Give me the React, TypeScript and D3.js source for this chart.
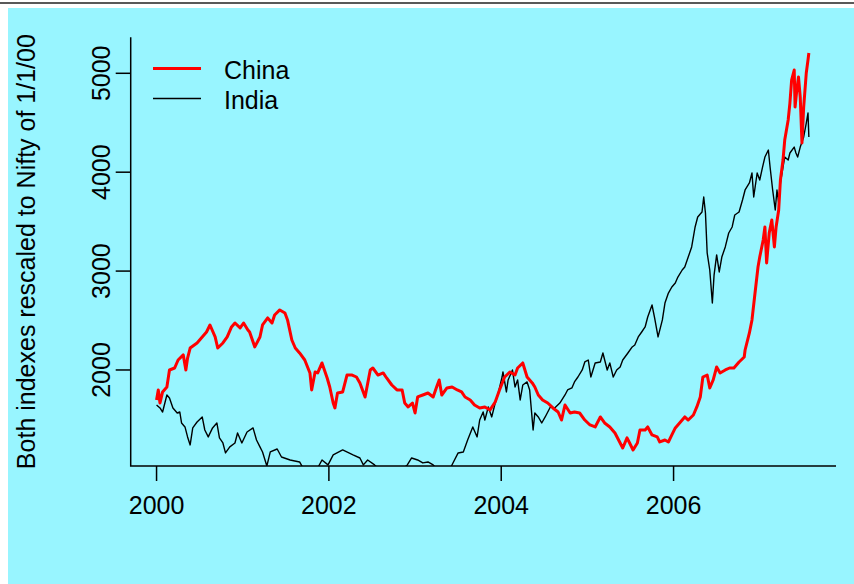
import React from "react";
import * as d3 from "d3";

const chinaYears = [
  2000.00, 2000.02, 2000.04, 2000.07, 2000.12, 2000.15, 2000.21, 2000.25, 2000.31, 2000.34,
  2000.36, 2000.39, 2000.47, 2000.53, 2000.58, 2000.62, 2000.68, 2000.71, 2000.77, 2000.82,
  2000.87, 2000.91, 2000.97, 2001.01, 2001.06, 2001.08, 2001.14, 2001.20, 2001.23, 2001.29,
  2001.34, 2001.37, 2001.43, 2001.49, 2001.52, 2001.57, 2001.61, 2001.66, 2001.72, 2001.78,
  2001.80, 2001.84, 2001.87, 2001.92, 2001.98, 2002.01, 2002.05, 2002.07, 2002.10, 2002.16,
  2002.21, 2002.27, 2002.32, 2002.36, 2002.42, 2002.48, 2002.51, 2002.57, 2002.63, 2002.67,
  2002.73, 2002.79, 2002.85, 2002.88, 2002.92, 2002.97, 2003.00, 2003.03, 2003.09, 2003.15,
  2003.21, 2003.25, 2003.28, 2003.31, 2003.37, 2003.43, 2003.49, 2003.54, 2003.58, 2003.64,
  2003.69, 2003.75, 2003.81, 2003.87, 2003.93, 2003.98, 2004.04, 2004.10, 2004.16, 2004.19,
  2004.25, 2004.30, 2004.36, 2004.39, 2004.43, 2004.48, 2004.54, 2004.60, 2004.66, 2004.70,
  2004.74, 2004.80, 2004.85, 2004.91, 2004.97, 2005.03, 2005.09, 2005.15, 2005.20, 2005.26,
  2005.32, 2005.38, 2005.41, 2005.46, 2005.49, 2005.53, 2005.58, 2005.61, 2005.67, 2005.70,
  2005.75, 2005.81, 2005.84, 2005.90, 2005.94, 2005.98, 2006.02, 2006.08, 2006.13, 2006.17,
  2006.23, 2006.27, 2006.31, 2006.34, 2006.39, 2006.42, 2006.46, 2006.50, 2006.54, 2006.60,
  2006.65, 2006.70, 2006.76, 2006.82, 2006.83, 2006.88, 2006.91, 2006.94, 2006.98, 2007.00,
  2007.04, 2007.06, 2007.08, 2007.11, 2007.14, 2007.17, 2007.19, 2007.22, 2007.24, 2007.27,
  2007.29, 2007.33, 2007.35, 2007.37, 2007.40, 2007.41, 2007.43, 2007.45, 2007.47, 2007.49,
  2007.51, 2007.54, 2007.56, 2007.57,
];
const chinaValues = [
  1697, 1798, 1666, 1778, 1828, 2000, 2020, 2101, 2152, 2000,
  2121, 2222, 2273, 2334, 2384, 2455, 2334, 2222, 2273, 2334,
  2435, 2475, 2425, 2475, 2404, 2384, 2233, 2334, 2455, 2526,
  2475, 2556, 2607, 2576, 2506, 2303, 2222, 2172, 2101, 1970,
  1798, 1980, 1970, 2071, 1919, 1828, 1666, 1616, 1767, 1778,
  1949, 1949, 1929, 1869, 1727, 2000, 2020, 1949, 1970, 1919,
  1848, 1798, 1798, 1666, 1626, 1666, 1565, 1727, 1747, 1767,
  1727, 1828, 1899, 1747, 1818, 1828, 1798, 1778, 1727, 1697,
  1646, 1616, 1626, 1596, 1676, 1798, 1929, 1980, 1949, 2020,
  2071, 1929, 1869, 1828, 1747, 1697, 1666, 1616, 1575, 1494,
  1646, 1565, 1575, 1565, 1494, 1444, 1424, 1525, 1464, 1424,
  1363, 1262, 1211, 1313, 1262, 1191, 1262, 1393, 1393, 1424,
  1343, 1323, 1272, 1292, 1272, 1343, 1414, 1474, 1525, 1494,
  1545, 1626, 1727, 1929, 1949, 1818, 1899, 2030, 1970, 2000,
  2020, 2020, 2081, 2131, 2202, 2374, 2506, 2738, 3041, 3142,
  3314, 3446, 3082, 3385, 3517, 3244, 3446, 3618, 3921, 4123,
  4325, 4528, 4699, 4932, 5033, 4659, 4831, 4962, 4760, 4295,
  4659, 5003, 5134, 5205,
];

const indiaYears = [
  2000.00, 2000.04, 2000.07, 2000.12, 2000.15, 2000.19, 2000.24, 2000.27, 2000.29, 2000.33,
  2000.36, 2000.39, 2000.42, 2000.47, 2000.53, 2000.56, 2000.60, 2000.65, 2000.70, 2000.73,
  2000.77, 2000.80, 2000.85, 2000.91, 2000.94, 2000.99, 2001.05, 2001.12, 2001.16, 2001.20,
  2001.23, 2001.28, 2001.32, 2001.40, 2001.45, 2001.55, 2001.66, 2001.70, 2001.78, 2001.87,
  2001.92, 2001.99, 2002.05, 2002.16, 2002.28, 2002.36, 2002.40, 2002.45, 2002.53, 2002.59,
  2002.71, 2002.82, 2002.91, 2002.96, 2003.03, 2003.09, 2003.15, 2003.21, 2003.29, 2003.40,
  2003.44, 2003.50, 2003.56, 2003.61, 2003.67, 2003.72, 2003.75, 2003.79, 2003.81, 2003.85,
  2003.89, 2003.93, 2003.96, 2004.01, 2004.02, 2004.06, 2004.08, 2004.13, 2004.16, 2004.19,
  2004.22, 2004.25, 2004.30, 2004.33, 2004.37, 2004.39, 2004.43, 2004.47, 2004.51, 2004.57,
  2004.62, 2004.68, 2004.74, 2004.77, 2004.82, 2004.85, 2004.89, 2004.94, 2004.97, 2005.01,
  2005.04, 2005.09, 2005.15, 2005.18, 2005.23, 2005.26, 2005.30, 2005.34, 2005.38, 2005.41,
  2005.47, 2005.52, 2005.55, 2005.59, 2005.63, 2005.67, 2005.70, 2005.75, 2005.78, 2005.82,
  2005.87, 2005.90, 2005.94, 2005.98, 2006.02, 2006.05, 2006.10, 2006.13, 2006.17, 2006.21,
  2006.25, 2006.28, 2006.33, 2006.35, 2006.37, 2006.39, 2006.42, 2006.45, 2006.47, 2006.50,
  2006.53, 2006.56, 2006.60, 2006.64, 2006.68, 2006.71, 2006.76, 2006.80, 2006.83, 2006.88,
  2006.91, 2006.93, 2006.97, 2007.00, 2007.03, 2007.06, 2007.10, 2007.12, 2007.15, 2007.18,
  2007.20, 2007.22, 2007.24, 2007.27, 2007.29, 2007.33, 2007.35, 2007.40, 2007.42, 2007.44,
  2007.47, 2007.51, 2007.54, 2007.56, 2007.57,
];
const indiaValues = [
  1646, 1616, 1575, 1747, 1717, 1616, 1565, 1575, 1464, 1424,
  1323, 1242, 1414, 1474, 1525, 1393, 1323, 1414, 1464, 1313,
  1262, 1161, 1222, 1262, 1363, 1262, 1373, 1414, 1292, 1222,
  1171, 1029, 1171, 1201, 1120, 1090, 1070, 1009, 969, 1009,
  1090, 1040, 1141, 1191, 1141, 1110, 1040, 1090, 1040, 989,
  938, 969, 1040, 1110, 1090, 1060, 1070, 1040, 969, 989,
  1060, 1161, 1171, 1292, 1424, 1323, 1494, 1575, 1494, 1626,
  1525, 1666, 1747, 1929, 1980, 1778, 1899, 2000, 1828, 1899,
  1697, 1848, 1879, 1798, 1393, 1565, 1525, 1464, 1525, 1626,
  1616, 1666, 1747, 1798, 1818, 1879, 1929, 2000, 2081, 2101,
  1929, 2071, 2081, 2172, 2000, 2071, 1929, 2000, 2030, 2101,
  2172, 2233, 2253, 2334, 2384, 2435, 2536, 2657, 2526, 2334,
  2506, 2677, 2778, 2839, 2880, 2940, 3011, 3041, 3142, 3244,
  3446, 3547, 3597, 3749, 3587, 3183, 3011, 2677, 2960, 3163,
  2991, 3142, 3244, 3385, 3446, 3567, 3597, 3719, 3820, 3891,
  3992, 3749, 3992, 3921, 4042, 4153, 4224, 4052, 3820, 3618,
  3820, 3688, 3891, 4052, 4153, 4123, 4194, 4254, 4194, 4153,
  4254, 4356, 4497, 4598, 4356,
];

const xTicks = [2000, 2002, 2004, 2006];
const yTicks = [2000, 3000, 4000, 5000];
const legendLabels = ["China", "India"];
const yLabel = "Both indexes rescaled to Nifty of 1/1/00";

const W = 854;
const H = 584;
const plot = { left: 130.7, right: 836, top: 37.3, bottom: 466 };
const font = "'Liberation Sans', Arial, Helvetica, sans-serif";
const fs = 25;

export default function App() {
  const x = d3.scaleLinear().domain([1999.7, 2007.885]).range([plot.left, plot.right]);
  const y = d3.scaleLinear().domain([1029, 5364]).range([plot.bottom, plot.top]);
  const line = d3
    .line<[number, number]>()
    .x((d) => x(d[0]))
    .y((d) => y(d[1]));
  const china: [number, number][] = chinaYears.map((t, i) => [t, chinaValues[i]]);
  const india: [number, number][] = indiaYears.map((t, i) => [t, indiaValues[i]]);
  const tick = 15;

  return (
    <svg
      width={W}
      height={H}
      style={{ position: "absolute", left: 0, top: 0, display: "block" }}
      fontFamily={font}
    >
      <rect x={0} y={0} width={W} height={H} fill="#ffffff" />
      <line x1={0} x2={W} y1={3} y2={3} stroke="#222" strokeWidth={1.5} />
      <rect x={8} y={8} width={W - 8} height={H - 8} fill="#98F5FF" />
      <defs>
        <clipPath id="plotclip">
          <rect
            x={plot.left}
            y={plot.top}
            width={plot.right - plot.left}
            height={plot.bottom - plot.top}
          />
        </clipPath>
      </defs>
      <g clipPath="url(#plotclip)">
        <path d={line(india) || ""} fill="none" stroke="#000" strokeWidth={1.4} strokeLinejoin="round" />
        <path d={line(china) || ""} fill="none" stroke="#ff0000" strokeWidth={3} strokeLinejoin="round" />
      </g>
      {/* axes box (bty = "l") */}
      <path
        d={`M${plot.left},${plot.top}V${plot.bottom}H${plot.right}`}
        fill="none"
        stroke="#000"
        strokeWidth={1.5}
      />
      {xTicks.map((t) => (
        <g key={t}>
          <line x1={x(t)} x2={x(t)} y1={plot.bottom} y2={plot.bottom + tick} stroke="#000" strokeWidth={1.5} />
          <text x={x(t)} y={514} textAnchor="middle" fontSize={fs} fill="#000">
            {t}
          </text>
        </g>
      ))}
      {yTicks.map((t) => (
        <g key={t}>
          <line x1={plot.left - tick} x2={plot.left} y1={y(t)} y2={y(t)} stroke="#000" strokeWidth={1.5} />
          <text
            transform={`translate(110,${y(t)}) rotate(-90)`}
            textAnchor="middle"
            fontSize={fs}
            fill="#000"
          >
            {t}
          </text>
        </g>
      ))}
      <text
        transform={`translate(35,${(plot.top + plot.bottom) / 2}) rotate(-90)`}
        textAnchor="middle"
        fontSize={fs}
        fill="#000"
      >
        {yLabel}
      </text>
      {/* legend */}
      <line x1={153} x2={201} y1={68.5} y2={68.5} stroke="#ff0000" strokeWidth={3} />
      <line x1={153} x2={201} y1={98.5} y2={98.5} stroke="#000" strokeWidth={1.4} />
      <text x={224} y={78.5} fontSize={fs} fill="#000">
        {legendLabels[0]}
      </text>
      <text x={224} y={108.5} fontSize={fs} fill="#000">
        {legendLabels[1]}
      </text>
    </svg>
  );
}
